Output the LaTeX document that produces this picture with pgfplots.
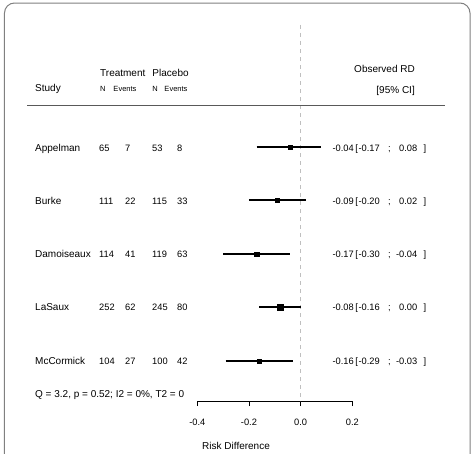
\documentclass[border=0pt]{standalone}
\usepackage{pgfplots}
\pgfplotsset{compat=1.18}
\usepackage{fontspec}
\setmainfont{Liberation Sans}
\newcommand\numfont{\fontsize{9.3bp}{11bp}\selectfont}
\begin{document}
\fontsize{10bp}{12bp}\selectfont
\begin{tikzpicture}
\path[use as bounding box] (0,0) rectangle (472bp,-454bp);
\fill[white] (0,0) rectangle (472bp,-454bp);
\begin{axis}[
  at={(197.3bp,-401bp)}, anchor=south west,
  scale only axis, width=155bp, height=376bp,
  xmin=-0.4, xmax=0.2, ymin=-401, ymax=-25,
  axis x line*=bottom, axis y line=none,
  xtick={-0.4,-0.2,0,0.2}, xticklabels={-0.4,-0.2,0.0,0.2},
  tick align=outside, major tick length=5bp,
  x axis line style={line width=0.8bp},
  every tick/.style={black, line width=0.8bp},
  xticklabel style={font=\numfont, yshift=-9.5bp},
  xlabel={Risk Difference},
  xlabel style={font=\fontsize{10bp}{12bp}\selectfont, at={(axis description cs:0.25,-0.1277)}, anchor=base},
  clip=false,
]
% reference line
\addplot[black!25, line width=0.8bp, dash pattern=on 4bp off 4bp] coordinates {(0,-25) (0,-401)};
% confidence intervals
\addplot[black, line width=1.8bp] coordinates {(-0.17,-147) (0.08,-147)};
\addplot[black, line width=1.8bp] coordinates {(-0.20,-200) (0.02,-200)};
\addplot[black, line width=1.8bp] coordinates {(-0.30,-254) (-0.04,-254)};
\addplot[black, line width=1.8bp] coordinates {(-0.16,-307) (0.00,-307)};
\addplot[black, line width=1.8bp] coordinates {(-0.29,-361) (-0.03,-361)};
% point estimates
\addplot[only marks, mark=square*, mark size=1.9bp, black] coordinates {(-0.04,-147)};
\addplot[only marks, mark=square*, mark size=2.1bp, black] coordinates {(-0.09,-200)};
\addplot[only marks, mark=square*, mark size=2.1bp, black] coordinates {(-0.17,-254)};
\addplot[only marks, mark=square*, mark size=3.0bp, black] coordinates {(-0.08,-307)};
\addplot[only marks, mark=square*, mark size=2.1bp, black] coordinates {(-0.16,-361)};
\end{axis}
\begin{scope}[x=1bp,y=-1bp]
\draw[black!50, line width=1bp, rounded corners=10bp] (4.5,470) -- (4.5,3) -- (470,3) -- (470,470);
\draw[black!65, line width=0.9bp] (27,105) -- (445,105);
% header
\node[anchor=base west, inner sep=0] at (35,91.2) {Study};
\node[anchor=base west, inner sep=0] at (100,76.3) {Treatment};
\node[anchor=base west, inner sep=0] at (152.3,76.3) {Placebo};
\begin{scope}[every node/.style={anchor=base west, inner sep=0, font=\fontsize{7.5bp}{9bp}\selectfont}]
\node at (100,91.7) {N};
\node at (113.3,91.7) {Events};
\node at (152.3,91.7) {N};
\node at (164.3,91.7) {Events};
\end{scope}
\node[anchor=base east, inner sep=0] at (415,72.5) {Observed RD};
\node[anchor=base east, inner sep=0] at (415,93) {[95\% CI]};
% rows
\begin{scope}[every node/.style={anchor=base west, inner sep=0, font=\numfont}]
\foreach \y/\s/\a/\b/\c/\d/\e/\f/\g/\o in {
  151/Appelman/65/7/53/8/-0.04/-0.17/399/0.08,
  204.3/Burke/111/22/115/33/-0.09/-0.20/399/0.02,
  257.6/Damoiseaux/114/41/119/63/-0.17/-0.30/395.8/-0.04,
  310.9/LaSaux/252/62/245/80/-0.08/-0.16/399/0.00,
  364.2/McCormick/104/27/100/42/-0.16/-0.29/395.8/-0.03}{
  \node[font=\fontsize{10bp}{12bp}\selectfont] at (35,\y) {\s};
  \node at (99,\y) {\a};
  \node at (125,\y) {\b};
  \node at (152,\y) {\c};
  \node at (177,\y) {\d};
  \node at (332.3,\y) {\e};
  \node at (355.2,\y) {[};
  \node at (358.3,\y) {\f};
  \node at (387.8,\y) {;};
  \node at (\g,\y) {\o};
  \node at (423.3,\y) {]};
}
\node[font=\fontsize{10bp}{12bp}\selectfont] at (35,397) {Q = 3.2, p = 0.52; I2 = 0\%, T2 = 0};
\end{scope}
\end{scope}
\end{tikzpicture}
\end{document}
